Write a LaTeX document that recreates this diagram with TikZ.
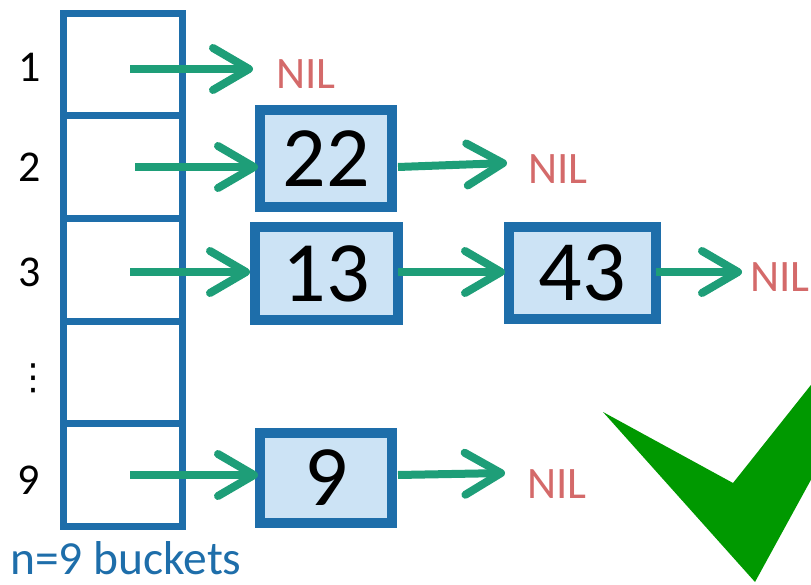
\documentclass[tikz,border=0pt]{standalone}
\usepackage{fontspec}
\setmainfont{Carlito}
\newfontfamily\symfont{DejaVu Sans}
\usetikzlibrary{arrows.meta}

\definecolor{bucketblue}{RGB}{30,110,170}
\definecolor{cellfill}{RGB}{204,227,245}
\definecolor{linkgreen}{RGB}{30,158,120}
\definecolor{nilred}{RGB}{212,106,106}
\definecolor{checkgreen}{RGB}{0,153,0}

\tikzset{
  cell/.style={draw=bucketblue, line width=7pt, minimum width=119pt,
    minimum height=102.5pt, inner sep=0pt, outer sep=0pt},
  item/.style={draw=bucketblue, fill=cellfill, line width=10pt, inner sep=0pt,
    outer sep=0pt, font=\fontsize{86}{86}\selectfont},
  rowlabel/.style={inner sep=0pt, font=\fontsize{44}{44}\selectfont},
  nil/.style={text=nilred, inner sep=0pt, font=\fontsize{45}{45}\selectfont},
  link/.style={draw=linkgreen, line width=8pt,
    -{Straight Barb[length=36pt, width=42pt, round]}},
}

\begin{document}
\begin{tikzpicture}[x=1pt, y=-1pt]
  \useasboundingbox (0,0) rectangle (811,585);
  \clip (0,0) rectangle (811,585);

  % bucket array
  \node[cell] (c1) at (123,64.5) {};
  \node[cell] (c2) at (123,167) {};
  \node[cell] (c3) at (123,269.75) {};
  \node[cell] (c4) at (123,372.25) {};
  \node[cell] (c9) at (123,474.75) {};

  % row indices
  \node[rowlabel] (l1) at (30,67.5) {1};
  \node[rowlabel] (l2) at (30,167.5) {2};
  \node[rowlabel] (l3) at (30,272) {3};
  \node[inner sep=0pt, font=\symfont\fontsize{36}{36}\selectfont] (ld) at (34,378) {⋮};
  \node[rowlabel] (l9) at (29,480) {9};

  \node[text=bucketblue, anchor=west, inner sep=0pt,
        font=\fontsize{47.5}{47.5}\selectfont] (caption) at (10,558) {n=9 buckets};

  % chained items
  \node[item, minimum width=132pt, minimum height=97pt] (b22) at (326,158.5) {22};
  \node[item, minimum width=143pt, minimum height=93pt] (b13) at (326.5,273.5) {13};
  \node[item, minimum width=147pt, minimum height=92pt] (b43) at (582.5,273) {43};
  \node[item, minimum width=132pt, minimum height=90pt] (b9) at (326,478) {9};

  % end-of-list markers
  \node[nil, anchor=west] (n1) at (276,74.5) {NIL};
  \node[nil, anchor=west] (n2) at (528,169.5) {NIL};
  \node[nil, anchor=west] (n3) at (750,277) {NIL};
  \node[nil, anchor=west] (n9) at (527,484) {NIL};

  \coordinate (t1) at (253,69);
  \coordinate (t2) at (507,163);
  \coordinate (t3) at (742,272);
  \coordinate (t9) at (505,473);

  % pointers
  \draw[link] ([xshift=7pt]c1.center |- 0,69) -- (t1);
  \draw[link] ([xshift=12pt]c2.center) -- ([xshift=-2pt]b22.west |- c2.center);
  \draw[link] ([xshift=7pt]c3.center |- 0,272) -- ([xshift=-5pt]b13.west |- 0,272);
  \draw[link] ([xshift=7pt]c9.center |- 0,475) -- ([xshift=-2pt]b9.west |- 0,475);
  \draw[link] ([xshift=6pt]b22.east |- 0,167) -- (t2);
  \draw[link] (b13.east |- 0,272) -- ([xshift=-4pt]b43.west |- 0,272);
  \draw[link] (b43.east |- 0,272) -- (t3);
  \draw[link] ([xshift=6pt]b9.east |- 0,475) -- (t9);

  % check mark
  \fill[checkgreen] (603,412) -- (733,483) -- (830,361) -- (830,445)
    -- (755,582) -- cycle;
\end{tikzpicture}
\end{document}
